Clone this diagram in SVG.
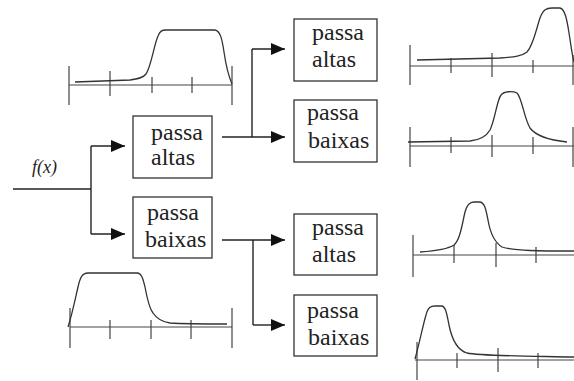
<svg xmlns="http://www.w3.org/2000/svg" width="574" height="381" viewBox="0 0 574 381">
<defs>
<marker id="arr" markerUnits="userSpaceOnUse" markerWidth="14" markerHeight="12" refX="14" refY="6" orient="auto">
<path d="M0,0 L14,6 L0,12 z" fill="#111"/>
</marker>
</defs>
<style>
.box{fill:#fff;stroke:#333;stroke-width:1.3}
.lbl{font-family:'Liberation Serif','Tinos','Noto Serif','FreeSerif','DejaVu Serif','Times New Roman',Times,serif;font-size:24px;fill:#222}
.fx{font-family:'Liberation Serif','Tinos','Noto Serif','FreeSerif','DejaVu Serif','Times New Roman',Times,serif;font-style:italic;font-size:18px;fill:#222}
.conn{fill:none;stroke:#222;stroke-width:1.4}
.ax{fill:none;stroke:#444;stroke-width:1.2}
.cv{fill:none;stroke:#333;stroke-width:1.3}
</style>
<rect width="574" height="381" fill="#fff"/>

<g id="connectors">
<path class="conn" d="M13,189 H91"/>
<path class="conn" d="M91,146 V234"/>
<path class="conn" d="M91,146 H125" marker-end="url(#arr)"/>
<path class="conn" d="M91,234 H125" marker-end="url(#arr)"/>
<path class="conn" d="M222,137 H285" marker-end="url(#arr)"/>
<path class="conn" d="M252,49 V137"/>
<path class="conn" d="M252,49 H285" marker-end="url(#arr)"/>
<path class="conn" d="M222,240 H285" marker-end="url(#arr)"/>
<path class="conn" d="M253,240 V325"/>
<path class="conn" d="M253,325 H285" marker-end="url(#arr)"/>
</g>

<g id="input-label">
<text class="fx" x="32" y="173">f(x)</text>
</g>

<g id="box-l1">
<rect class="box" x="133" y="116" width="79" height="62"/>
<text class="lbl" x="151" y="140">passa</text>
<text class="lbl" x="151" y="165">altas</text>
</g>
<g id="box-l2">
<rect class="box" x="133" y="197" width="79" height="61"/>
<text class="lbl" x="147" y="220">passa</text>
<text class="lbl" x="145" y="247">baixas</text>
</g>
<g id="box-r1">
<rect class="box" x="294" y="19" width="83" height="62"/>
<text class="lbl" x="312" y="40">passa</text>
<text class="lbl" x="312" y="67">altas</text>
</g>
<g id="box-r2">
<rect class="box" x="294" y="100" width="83" height="62"/>
<text class="lbl" x="307" y="120">passa</text>
<text class="lbl" x="308" y="148">baixas</text>
</g>
<g id="box-r3">
<rect class="box" x="294" y="214" width="83" height="61"/>
<text class="lbl" x="312" y="235">passa</text>
<text class="lbl" x="312" y="262">altas</text>
</g>
<g id="box-r4">
<rect class="box" x="294" y="295" width="83" height="61"/>
<text class="lbl" x="307" y="318">passa</text>
<text class="lbl" x="308" y="345">baixas</text>
</g>

<g id="graph-tl">
<path class="ax" d="M69,85 H232 M69,66 V105 M232,66 V105 M110,71 V96 M152,77 V93 M192,77 V93"/>
<path class="cv" d="M75,82 L130,80 C138,79 143,78 146,74 C151,67 154,45 158,36 C160,31 162,30 166,30 L215,30 C220,31 222,38 224,52 C226,66 229,77 232,84"/>
</g>
<g id="graph-bl">
<path class="ax" d="M70,327 H232 M70,308 V348 M232,308 V348 M110,320 V339 M151,320 V339 M191,320 V339"/>
<path class="cv" d="M68,327 C72,315 75,300 78,287 C80,278 82,273 88,273 L138,273 C142,274 143,279 145,287 C147,298 149,308 153,313 C157,319 162,322 170,323 C185,324 205,324 227,324"/>
</g>
<g id="graph-r1">
<path class="ax" d="M410,66 H574 M410,45 V85 M451,58 V73 M492,53 V77 M533,60 V73 M573,55 V85"/>
<path class="cv" d="M417,60 L500,58 C515,57 522,56 527,52 C533,46 536,30 540,18 C543,10 546,8 552,8 L560,8 C565,9 567,20 569,33 C571,45 572,55 574,62"/>
</g>
<g id="graph-r2">
<path class="ax" d="M410,146 H574 M410,127 V167 M451,137 V153 M492,135 V157 M533,137 V154 M573,127 V167"/>
<path class="cv" d="M408,142 L470,141 C480,140 486,137 490,130 C495,120 497,100 501,95 C504,91 513,91 517,93 C522,98 524,118 530,128 C536,136 548,140 567,142"/>
</g>
<g id="graph-r3">
<path class="ax" d="M413,255 H574 M413,235 V277 M454,245 V263 M496,243 V267 M536,247 V263"/>
<path class="cv" d="M420,252 C435,251 448,249 454,245 C460,240 462,225 465,212 C467,204 470,202 474,202 L480,202 C485,203 486,210 488,220 C490,232 494,242 502,247 C515,251 540,251 574,251"/>
</g>
<g id="graph-r4">
<path class="ax" d="M415,360 H574 M417,342 V380 M457,353 V368 M498,348 V372 M538,353 V368"/>
<path class="cv" d="M415,359 C419,345 423,325 426,315 C428,307 431,306 435,306 L442,306 C446,307 447,315 449,325 C452,340 457,350 467,353 C480,356 520,356 574,357"/>
</g>
</svg>
